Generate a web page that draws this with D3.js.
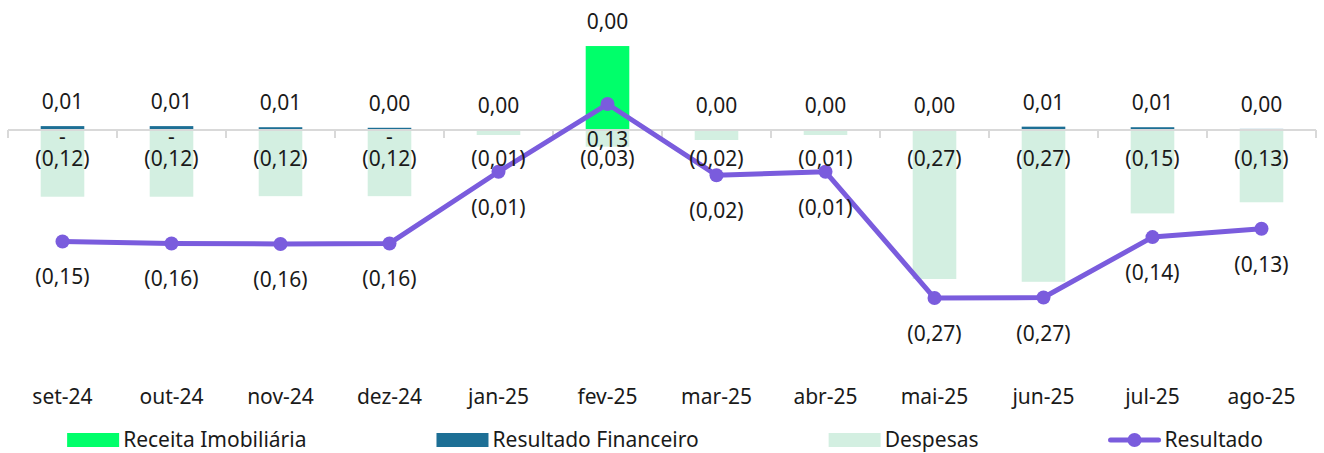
<!DOCTYPE html>
<html>
<head>
<meta charset="utf-8">
<script src="https://cdn.jsdelivr.net/npm/d3@7"></script>
<style>
  html, body { margin: 0; padding: 0; background: #fff; }
  svg { display: block; font-family: "Noto Sans", sans-serif; }
</style>
</head>
<body>
<svg id="chart" width="1324" height="453"></svg>
<script>
// months
var categories = ["set-24", "out-24", "nov-24", "dez-24", "jan-25", "fev-25",
                  "mar-25", "abr-25", "mai-25", "jun-25", "jul-25", "ago-25"];

// series (R$ milhões)
var receita = [0, 0, null, 0, null, 0.151, null, null, null, null, null, null];
var resultadoFinanceiro = [0.007, 0.007, 0.005, 0.004, 0, 0, 0, 0, 0, 0.006, 0.005, 0.002];
var despesas = [-0.12, -0.12, -0.119, -0.119, -0.009, -0.03, -0.018, -0.009, -0.268, -0.273, -0.15, -0.13];
var resultado = [-0.152, -0.156, -0.157, -0.156, -0.009, 0.13, -0.016, -0.009, -0.268, -0.267, -0.143, -0.126];

var legendNames = ["Receita Imobiliária", "Resultado Financeiro", "Despesas", "Resultado"];

var colors = {
  receita: "#00ff6a",
  financeiro: "#1d6f95",
  despesas: "#d3efe1",
  resultado: "#7a5cdd"
};

var svg = d3.select("#chart");
var fontSize = 21;
var textColor = "#1a1a1a";

var x = d3.scaleBand().domain(categories).range([8, 1316])
  .paddingInner(0.6).paddingOuter(0.3);
var y = d3.scaleLinear().domain([-0.4, 0.2]).range([352.4, 18.8]);
// secondary axis for the line (hidden, like in the original)
var y2 = d3.scaleLinear().domain([-0.3795, 0.3048]).range([352.4, 18.8]);

function fmt(v) {
  var s = Math.abs(v).toFixed(2).replace(".", ",");
  return v < 0 && Math.abs(v) >= 0.005 ? "(" + s + ")" : s;
}

var bars = svg.append("g");

// despesas, negative stack
bars.selectAll(".desp").data(categories).enter().append("rect")
  .attr("x", function(d) { return x(d); })
  .attr("width", x.bandwidth())
  .attr("y", y(0))
  .attr("height", function(d, i) { return y(despesas[i]) - y(0); })
  .attr("fill", colors.despesas);

// receita, positive stack bottom
bars.selectAll(".rec").data(categories).enter().append("rect")
  .attr("x", function(d) { return x(d); })
  .attr("width", x.bandwidth())
  .attr("y", function(d, i) { return y(receita[i] || 0); })
  .attr("height", function(d, i) { return y(0) - y(receita[i] || 0); })
  .attr("fill", colors.receita);

// resultado financeiro, stacked on receita
bars.selectAll(".fin").data(categories).enter().append("rect")
  .attr("x", function(d) { return x(d); })
  .attr("width", x.bandwidth())
  .attr("y", function(d, i) { return y((receita[i] || 0) + resultadoFinanceiro[i]); })
  .attr("height", function(d, i) { return y(receita[i] || 0) - y((receita[i] || 0) + resultadoFinanceiro[i]); })
  .attr("fill", colors.financeiro);

// category axis
var axis = svg.append("g").attr("stroke", "#d9d9d9").attr("stroke-width", 2);
axis.append("line")
  .attr("x1", 8).attr("x2", 1316)
  .attr("y1", y(0)).attr("y2", y(0));
var step = x.step();
axis.selectAll(".tick").data(d3.range(categories.length + 1)).enter().append("line")
  .attr("x1", function(i) { return 8 + i * step; })
  .attr("x2", function(i) { return 8 + i * step; })
  .attr("y1", y(0)).attr("y2", y(0) + 8);

svg.append("g").selectAll("text").data(categories).enter().append("text")
  .attr("x", function(d) { return x(d) + x.bandwidth() / 2; })
  .attr("y", 404)
  .attr("text-anchor", "middle")
  .attr("font-size", fontSize)
  .attr("fill", textColor)
  .text(function(d) { return d; });

// resultado line
var line = d3.line()
  .x(function(d, i) { return x(categories[i]) + x.bandwidth() / 2; })
  .y(function(d) { return y2(d); });

svg.append("path")
  .datum(resultado)
  .attr("d", line)
  .attr("fill", "none")
  .attr("stroke", colors.resultado)
  .attr("stroke-width", 5)
  .attr("stroke-linejoin", "round");

svg.append("g").selectAll("circle").data(resultado).enter().append("circle")
  .attr("cx", function(d, i) { return x(categories[i]) + x.bandwidth() / 2; })
  .attr("cy", function(d) { return y2(d); })
  .attr("r", 7)
  .attr("fill", colors.resultado);

// data labels
var labels = svg.append("g")
  .attr("font-size", fontSize)
  .attr("fill", textColor)
  .attr("text-anchor", "middle");

// receita zero labels "-"
labels.selectAll(".lrec").data(categories.filter(function(d, i) { return receita[i] === 0; }))
  .enter().append("text")
  .attr("x", function(d) { return x(d) + x.bandwidth() / 2; })
  .attr("y", y(0) + 14)
  .text("-");

labels.selectAll(".lfin").data(categories).enter().append("text")
  .attr("x", function(d) { return x(d) + x.bandwidth() / 2; })
  .attr("y", function(d, i) { return y((receita[i] || 0) + resultadoFinanceiro[i]) - 17; })
  .text(function(d, i) { return fmt(resultadoFinanceiro[i]); });

labels.selectAll(".ldesp").data(categories).enter().append("text")
  .attr("x", function(d) { return x(d) + x.bandwidth() / 2; })
  .attr("y", y(0) + 36)
  .text(function(d, i) { return fmt(despesas[i]); });

labels.selectAll(".lres").data(categories).enter().append("text")
  .attr("x", function(d) { return x(d) + x.bandwidth() / 2; })
  .attr("y", function(d, i) { return y2(resultado[i]) + 43; })
  .text(function(d, i) { return fmt(resultado[i]); });

// legend
var legend = svg.append("g").attr("font-size", fontSize).attr("fill", textColor);
var symW = 52, symGap = 4, itemGap = 130, legendY = 440;
var items = legend.selectAll("g").data(legendNames).enter().append("g");
items.append("text")
  .attr("x", symW + symGap)
  .attr("y", legendY + 7)
  .text(function(d) { return d; });
var widths = [];
items.each(function() {
  widths.push(symW + symGap + d3.select(this).select("text").node().getComputedTextLength());
});
var total = d3.sum(widths) + itemGap * (widths.length - 1);
var lx = 665 - total / 2;
items.attr("transform", function(d, i) {
  var t = "translate(" + (lx + d3.sum(widths.slice(0, i)) + itemGap * i) + ",0)";
  return t;
});
items.each(function(d, i) {
  var g = d3.select(this);
  if (i < 3) {
    g.insert("rect", "text")
      .attr("x", 0).attr("y", legendY - 7)
      .attr("width", symW).attr("height", 14)
      .attr("fill", [colors.receita, colors.financeiro, colors.despesas][i]);
  } else {
    g.insert("line", "text")
      .attr("x1", 2).attr("x2", symW - 2)
      .attr("y1", legendY).attr("y2", legendY)
      .attr("stroke", colors.resultado).attr("stroke-width", 5)
      .attr("stroke-linecap", "round");
    g.insert("circle", "text")
      .attr("cx", symW / 2).attr("cy", legendY).attr("r", 7)
      .attr("fill", colors.resultado);
  }
});
</script>
</body>
</html>
